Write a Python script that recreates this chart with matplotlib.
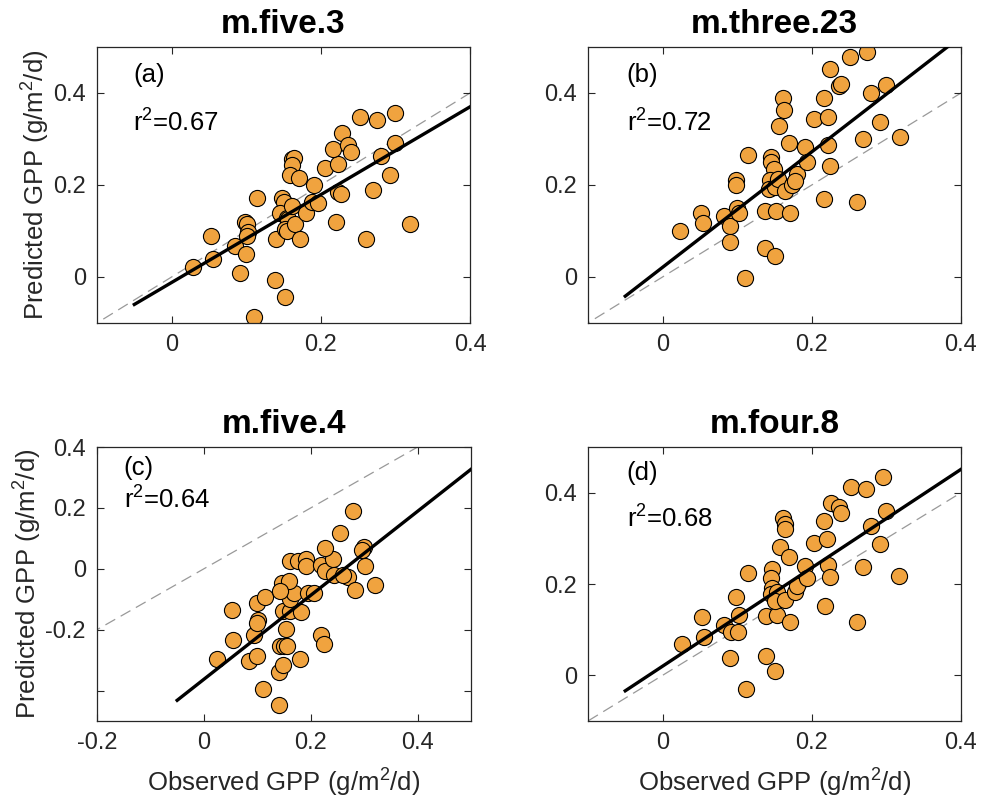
import numpy as np
import matplotlib
matplotlib.use("Agg")
import matplotlib.pyplot as plt

plt.rcParams['font.family'] = ['Liberation Sans', 'DejaVu Sans']
plt.rcParams['mathtext.fontset'] = 'custom'
plt.rcParams['mathtext.rm'] = 'Liberation Sans'
plt.rcParams['mathtext.it'] = 'Liberation Sans:italic'
plt.rcParams['mathtext.bf'] = 'Liberation Sans:bold'

# observed vs predicted GPP for each model
obs_a = [0.028, 0.056, 0.053, 0.091, 0.085, 0.100, 0.099, 0.101, 0.103, 0.101, 0.111, 0.115,
         0.139, 0.152, 0.140, 0.148, 0.150, 0.145, 0.154, 0.156, 0.152, 0.154, 0.161, 0.164,
         0.162, 0.158, 0.171, 0.165, 0.172, 0.161, 0.180, 0.191, 0.188, 0.196, 0.205, 0.223,
         0.216, 0.228, 0.236, 0.241, 0.223, 0.227, 0.220, 0.253, 0.275, 0.300, 0.300, 0.281,
         0.293, 0.270, 0.260, 0.319]
pred_a = [0.021, 0.038, 0.088, 0.009, 0.067, 0.049, 0.120, 0.115, 0.097, 0.089, -0.086, 0.172,
          -0.006, -0.044, 0.082, 0.171, 0.162, 0.140, 0.129, 0.126, 0.105, 0.100, 0.257, 0.259,
          0.243, 0.221, 0.215, 0.115, 0.082, 0.155, 0.139, 0.199, 0.162, 0.160, 0.237, 0.246,
          0.279, 0.314, 0.287, 0.272, 0.184, 0.181, 0.120, 0.347, 0.341, 0.356, 0.292, 0.262,
          0.222, 0.190, 0.083, 0.115]

obs_b = [0.024, 0.051, 0.054, 0.082, 0.091, 0.090, 0.098, 0.099, 0.100, 0.102, 0.111, 0.114,
         0.137, 0.151, 0.137, 0.152, 0.171, 0.146, 0.146, 0.149, 0.144, 0.143, 0.151, 0.155,
         0.164, 0.174, 0.180, 0.178, 0.161, 0.163, 0.156, 0.169, 0.191, 0.194, 0.203, 0.216,
         0.222, 0.225, 0.222, 0.225, 0.217, 0.236, 0.239, 0.251, 0.274, 0.279, 0.299, 0.291,
         0.268, 0.260, 0.318]
pred_b = [0.100, 0.140, 0.118, 0.133, 0.111, 0.076, 0.210, 0.200, 0.151, 0.140, -0.002, 0.266,
          0.064, 0.045, 0.144, 0.144, 0.140, 0.261, 0.249, 0.235, 0.210, 0.192, 0.195, 0.214,
          0.188, 0.199, 0.224, 0.208, 0.390, 0.363, 0.329, 0.292, 0.283, 0.250, 0.343, 0.390,
          0.347, 0.453, 0.288, 0.241, 0.170, 0.415, 0.420, 0.479, 0.490, 0.400, 0.418, 0.338,
          0.301, 0.162, 0.305]

obs_c = [0.025, 0.055, 0.052, 0.085, 0.100, 0.093, 0.102, 0.099, 0.100, 0.115, 0.110, 0.140,
         0.140, 0.148, 0.180, 0.143, 0.150, 0.156, 0.153, 0.148, 0.162, 0.182, 0.162, 0.168,
         0.146, 0.159, 0.143, 0.195, 0.206, 0.162, 0.176, 0.192, 0.191, 0.219, 0.227, 0.241,
         0.227, 0.254, 0.279, 0.244, 0.269, 0.282, 0.300, 0.296, 0.302, 0.321, 0.220, 0.224,
         0.260]
pred_c = [-0.295, -0.235, -0.137, -0.304, -0.285, -0.216, -0.169, -0.178, -0.112, -0.093, -0.396, -0.448,
          -0.340, -0.315, -0.295, -0.253, -0.253, -0.253, -0.198, -0.140, -0.140, -0.143, -0.098, -0.079,
          -0.048, -0.041, -0.074, -0.081, -0.081, 0.027, 0.027, 0.033, 0.009, 0.014, -0.008, 0.031,
          0.069, 0.116, 0.190, -0.019, -0.026, -0.071, 0.073, 0.062, 0.009, -0.054, -0.216, -0.247,
          -0.022]

obs_d = [0.026, 0.053, 0.056, 0.083, 0.092, 0.101, 0.103, 0.099, 0.091, 0.112, 0.115, 0.138,
         0.151, 0.138, 0.153, 0.171, 0.147, 0.146, 0.147, 0.145, 0.154, 0.151, 0.164, 0.178,
         0.180, 0.161, 0.164, 0.164, 0.157, 0.170, 0.191, 0.194, 0.203, 0.216, 0.221, 0.222,
         0.225, 0.218, 0.226, 0.237, 0.239, 0.252, 0.273, 0.296, 0.299, 0.279, 0.291, 0.268,
         0.260, 0.317]
pred_d = [0.068, 0.127, 0.084, 0.111, 0.096, 0.096, 0.133, 0.171, 0.039, -0.031, 0.225, 0.043,
          0.009, 0.129, 0.133, 0.116, 0.232, 0.213, 0.191, 0.178, 0.182, 0.162, 0.165, 0.182,
          0.195, 0.344, 0.332, 0.320, 0.280, 0.260, 0.240, 0.213, 0.289, 0.338, 0.298, 0.242,
          0.216, 0.151, 0.377, 0.369, 0.356, 0.413, 0.407, 0.435, 0.361, 0.326, 0.287, 0.238,
          0.116, 0.218]

titles = ['m.five.3', 'm.three.23', 'm.five.4', 'm.four.8']
tags = ['(a)', '(b)', '(c)', '(d)']
r2 = [0.67, 0.72, 0.64, 0.68]
slopes = [0.955, 1.255, 1.38, 1.078]
intercepts = [-0.012, 0.021, -0.363, 0.020]

obs = [obs_a, obs_b, obs_c, obs_d]
pred = [pred_a, pred_b, pred_c, pred_d]

xlims = [(-0.1, 0.4), (-0.1, 0.4), (-0.2, 0.5), (-0.1, 0.4)]
ylims = [(-0.1, 0.5), (-0.1, 0.5), (-0.5, 0.4), (-0.1, 0.5)]
xticks = [[0, 0.2, 0.4], [0, 0.2, 0.4], [-0.2, 0, 0.2, 0.4], [0, 0.2, 0.4]]
yticks = [[0, 0.2, 0.4], [0, 0.2, 0.4], [-0.4, -0.2, 0, 0.2, 0.4], [0, 0.2, 0.4]]
tag_pos = [(0.097, 0.9, 0.725), (0.104, 0.9, 0.725), (0.071, 0.922, 0.807), (0.104, 0.907, 0.736)]

positions = [[0.0976, 0.5973, 0.3753, 0.3441],
             [0.5915, 0.5973, 0.3753, 0.3441],
             [0.0976, 0.1010, 0.3763, 0.3416],
             [0.5915, 0.1010, 0.3753, 0.3416]]

fig = plt.figure(figsize=(9.94, 8.02), dpi=100)
dark = '#262626'

for i in range(4):
    ax = fig.add_axes(positions[i])
    ax.plot([-1, 1], [-1, 1], ls=(0, (9, 5)), color='#999999', lw=0.9, zorder=1)
    ax.scatter(obs[i], pred[i], s=135, c='#f0a33f', edgecolors='black', linewidths=0.8, zorder=2)
    xf = np.array([-0.05, 0.5])
    ax.plot(xf, slopes[i] * xf + intercepts[i], color='black', lw=2.4, zorder=3)

    ax.set_xlim(xlims[i])
    ax.set_ylim(ylims[i])
    ax.set_xticks(xticks[i])
    ax.set_yticks(yticks[i])
    ax.set_xticklabels(['0' if v == 0 else ('%g' % v) for v in xticks[i]])
    if i == 2:
        ax.set_yticklabels(['', '-0.2', '0', '0.2', '0.4'])
    else:
        ax.set_yticklabels(['0' if v == 0 else ('%g' % v) for v in yticks[i]])
    ax.tick_params(direction='in', length=5, width=0.8, top=True, right=True,
                   labelsize=17, colors=dark, pad=8)
    for sp in ax.spines.values():
        sp.set_color(dark)
        sp.set_linewidth(0.9)

    ax.set_title(titles[i], fontsize=24, fontweight='bold', pad=10)
    tx, ty1, ty2 = tag_pos[i]
    ax.text(tx, ty1, tags[i], transform=ax.transAxes, fontsize=18.5, va='center', ha='left')
    ax.text(tx, ty2, 'r$^2$=%.2f' % r2[i], transform=ax.transAxes, fontsize=18.5,
            va='center', ha='left')

    if i in (0, 2):
        ax.set_ylabel('Predicted GPP (g/m$^2$/d)', fontsize=18.5, color=dark, labelpad=1)
    if i in (2, 3):
        ax.set_xlabel('Observed GPP (g/m$^2$/d)', fontsize=18.5, color=dark, labelpad=9)

fig.savefig('out.png', dpi=100)
